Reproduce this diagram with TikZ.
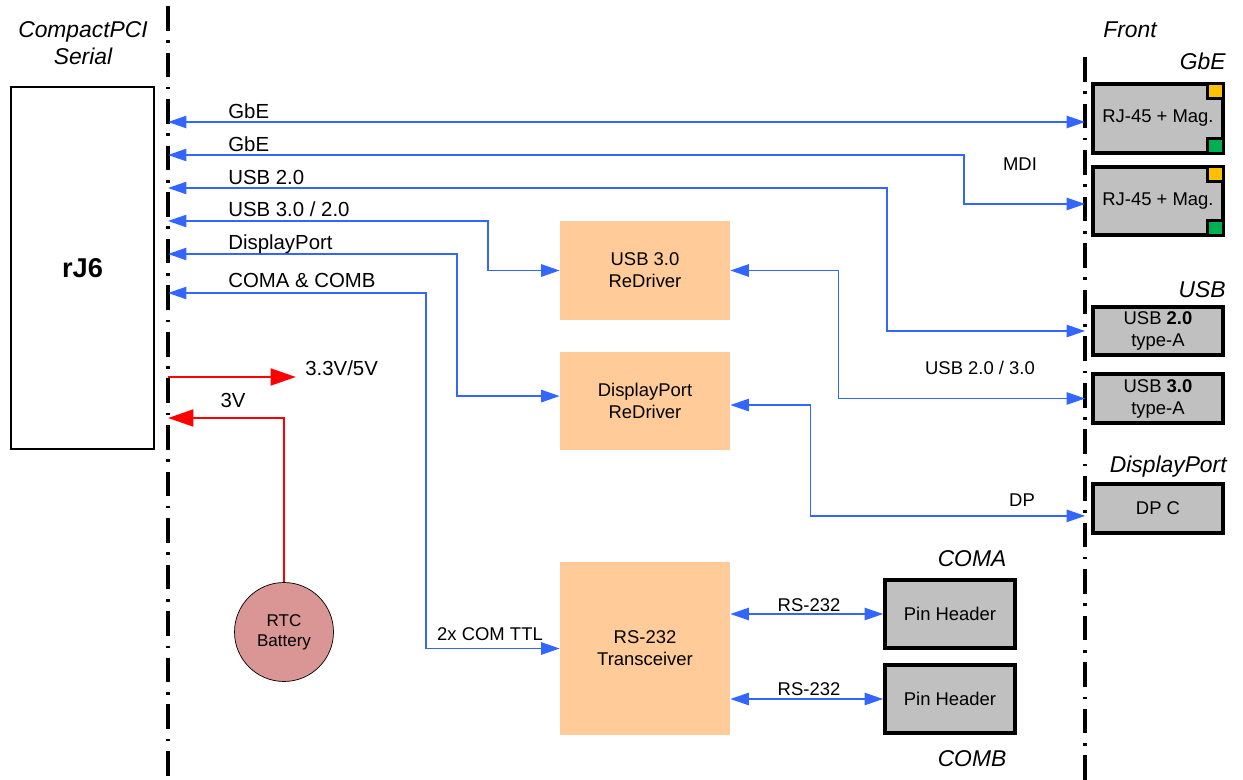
\documentclass[tikz,border=0pt]{standalone}
\usepackage{fontspec}
\setmainfont{Liberation Sans}
\usetikzlibrary{arrows.meta}
\definecolor{linkblue}{RGB}{51,102,255}
\definecolor{drvfill}{RGB}{255,204,153}
\definecolor{frontgray}{RGB}{192,192,192}
\definecolor{ledyellow}{RGB}{255,192,0}
\definecolor{ledgreen}{RGB}{0,176,80}
\definecolor{battfill}{RGB}{217,150,148}
\newcommand{\boxfont}{\fontsize{10.5}{12.5}\selectfont}
\newcommand{\lblfont}{\fontsize{11.6}{13.5}\selectfont}
\newcommand{\hdrfont}{\fontsize{13}{15.3}\selectfont\itshape}
\tikzset{
	busline/.style={line width=2pt, dash pattern=on 14pt off 5.5pt on 1.5pt off 5.5pt},
	link/.style={linkblue, line width=0.9pt, >={Triangle[length=10.5pt,width=7pt]}},
	power/.style={red, line width=1.7pt, >={Triangle[length=14.5pt,width=9.5pt]}},
	frontbox/.style={draw, line width=2.2pt, fill=frontgray, minimum width=2.6cm, inner sep=0pt, align=center, font=\boxfont},
	drvbox/.style={fill=drvfill, minimum width=3.4cm, inner sep=0pt, align=center, font=\boxfont},
	ledbox/.style={draw, line width=1.6pt, minimum width=0.32cm, minimum height=0.3cm, inner sep=0pt},
	lbl/.style={font=\lblfont, inner sep=0pt},
	smlbl/.style={font=\boxfont, inner sep=0pt},
	hdr/.style={font=\hdrfont, inner sep=0pt}
}
\begin{document}
\begin{tikzpicture}[x=0.02cm, y=-0.02cm]
	\useasboundingbox (0,0) rectangle (1243,780);
	%=========== backplane and front lines ===========================
	\draw[busline] (168,6) -- (168,780);
	\draw[busline] (1085,57) -- (1085,780);
	\node[hdr, align=center] (hCpci) at (83,43) {CompactPCI\\Serial};
	\node[hdr, anchor=base] (hFront) at (1130,38) {Front};
	\node[hdr, anchor=base east] (hGbe) at (1226,70) {GbE};
	\node[hdr, anchor=base east] (hUsb) at (1226,297) {USB};
	\node[hdr, anchor=base east] (hDp) at (1227,472) {DisplayPort};
	\node[hdr, anchor=base] (hComa) at (972,566) {COMA};
	\node[hdr, anchor=base] (hComb) at (972,766) {COMB};
	%=========== rJ6 and the chips ===========================
	\node[draw, line width=1.5pt, minimum width=2.86cm, minimum height=7.24cm, font=\fontsize{15.5}{18}\selectfont\bfseries] (rj6) at (82.5,268) {rJ6};
	\node[drvbox, minimum height=1.98cm] (usbdrv) at (645,270.5) {USB 3.0\\ReDriver};
	\node[drvbox, minimum height=1.96cm] (dpdrv) at (645,401) {DisplayPort\\ReDriver};
	\node[drvbox, minimum height=3.46cm] (rs) at (645,648.5) {RS-232\\Transceiver};
	\node[circle, draw, fill=battfill, minimum size=1.98cm, inner sep=0pt, align=center, font=\fontsize{9.7}{11.5}\selectfont] (rtc) at (284,632) {RTC\\Battery};
	%=========== front connectors, from top to bottom ===========================
	\node[frontbox, minimum height=1.38cm] (rjA) at (1158,118.5) {RJ-45 + Mag.};
	\node[frontbox, minimum height=1.36cm] (rjB) at (1158,201) {RJ-45 + Mag.};
	\node[ledbox, fill=ledyellow, anchor=north east] (ledAy) at (rjA.north east) {};
	\node[ledbox, fill=ledgreen, anchor=south east] (ledAg) at (rjA.south east) {};
	\node[ledbox, fill=ledyellow, anchor=north east] (ledBy) at (rjB.north east) {};
	\node[ledbox, fill=ledgreen, anchor=south east] (ledBg) at (rjB.south east) {};
	\node[frontbox, minimum height=0.96cm] (usbA) at (1158,331) {USB \textbf{2.0}\\type-A};
	\node[frontbox, minimum height=0.98cm] (usbB) at (1158,398.5) {USB \textbf{3.0}\\type-A};
	\node[frontbox, minimum height=0.98cm] (dpc) at (1158,508.5) {DP C};
	\node[frontbox, minimum height=1.36cm] (pinA) at (950,614) {Pin Header};
	\node[frontbox, minimum height=1.36cm] (pinB) at (950,699) {Pin Header};
	%=========== links on the backplane side ===========================
	\coordinate (bGbeA) at (168,122);
	\coordinate (bGbeB) at (168,155);
	\coordinate (bUsbA) at (168,188);
	\coordinate (bUsbC) at (168,221);
	\coordinate (bDp) at (168,254);
	\coordinate (bCom) at (168,293);
	\coordinate (bPwr) at (168,377);
	\coordinate (bRtc) at (168,418);
	\coordinate (pwrEnd) at (296,377);
	\draw[link,<->,shorten >=3.4pt] (bGbeA) -- (bGbeA -| rjA.west);
	\draw[link,<->,shorten >=3.4pt] (bGbeB) -- ++(796,0) |- ([yshift=-1.7pt]rjB.west);
	\draw[link,<->,shorten >=3.4pt] (bUsbA) -- ++(719,0) |- (usbA.west);
	\draw[link,<->] (bUsbC) -- ++(320,0) |- (usbdrv.west);
	\draw[link,<->] (bDp) -- ++(289,0) |- ([yshift=2.8pt]dpdrv.west);
	\draw[link,<->] (bCom) -- ++(258,0) |- (rs.west);
	%=========== links on the front side ===========================
	\draw[link,<->,shorten >=3.4pt] (usbdrv.east) -- ++(108,0) |- (usbB.west);
	\draw[link,<->,shorten >=3.4pt] ([yshift=-2.3pt]dpdrv.east) -- ++(80,0) |- ([yshift=-4.2pt]dpc.west);
	\draw[link,<->] (rs.east |- pinA.west) -- (pinA.west);
	\draw[link,<->] (rs.east |- pinB.west) -- (pinB.west);
	%=========== power ===========================
	\draw[power,->] (bPwr) -- (pwrEnd);
	\draw[power,->] (rtc.north) |- (bRtc);
	%=========== labels ===========================
	\node[lbl, anchor=base west] (tGbeA) at (228,119) {GbE};
	\node[lbl, anchor=base west] (tGbeB) at (228,152) {GbE};
	\node[lbl, anchor=base west] (tUsbA) at (228,185) {USB 2.0};
	\node[lbl, anchor=base west] (tUsbC) at (228,217) {USB 3.0 / 2.0};
	\node[lbl, anchor=base west] (tDp) at (228,250) {DisplayPort};
	\node[lbl, anchor=base west] (tCom) at (228,288) {COMA \& COMB};
	\node[lbl, anchor=base west] (tPwr) at (305,375) {3.3V/5V};
	\node[lbl, anchor=base] (tRtc) at (233,407) {3V};
	\node[smlbl, anchor=base] (tMdi) at (1020,171) {MDI};
	\node[smlbl, anchor=base] (tUsbB) at (980,374) {USB 2.0 / 3.0};
	\node[smlbl, anchor=base] (tDpc) at (1022,506) {DP};
	\node[smlbl, anchor=base] (tTtl) at (490,640) {2x COM TTL};
	\node[smlbl, anchor=base] (tRsA) at (809,611) {RS-232};
	\node[smlbl, anchor=base] (tRsB) at (809,695) {RS-232};
\end{tikzpicture}
\end{document}
